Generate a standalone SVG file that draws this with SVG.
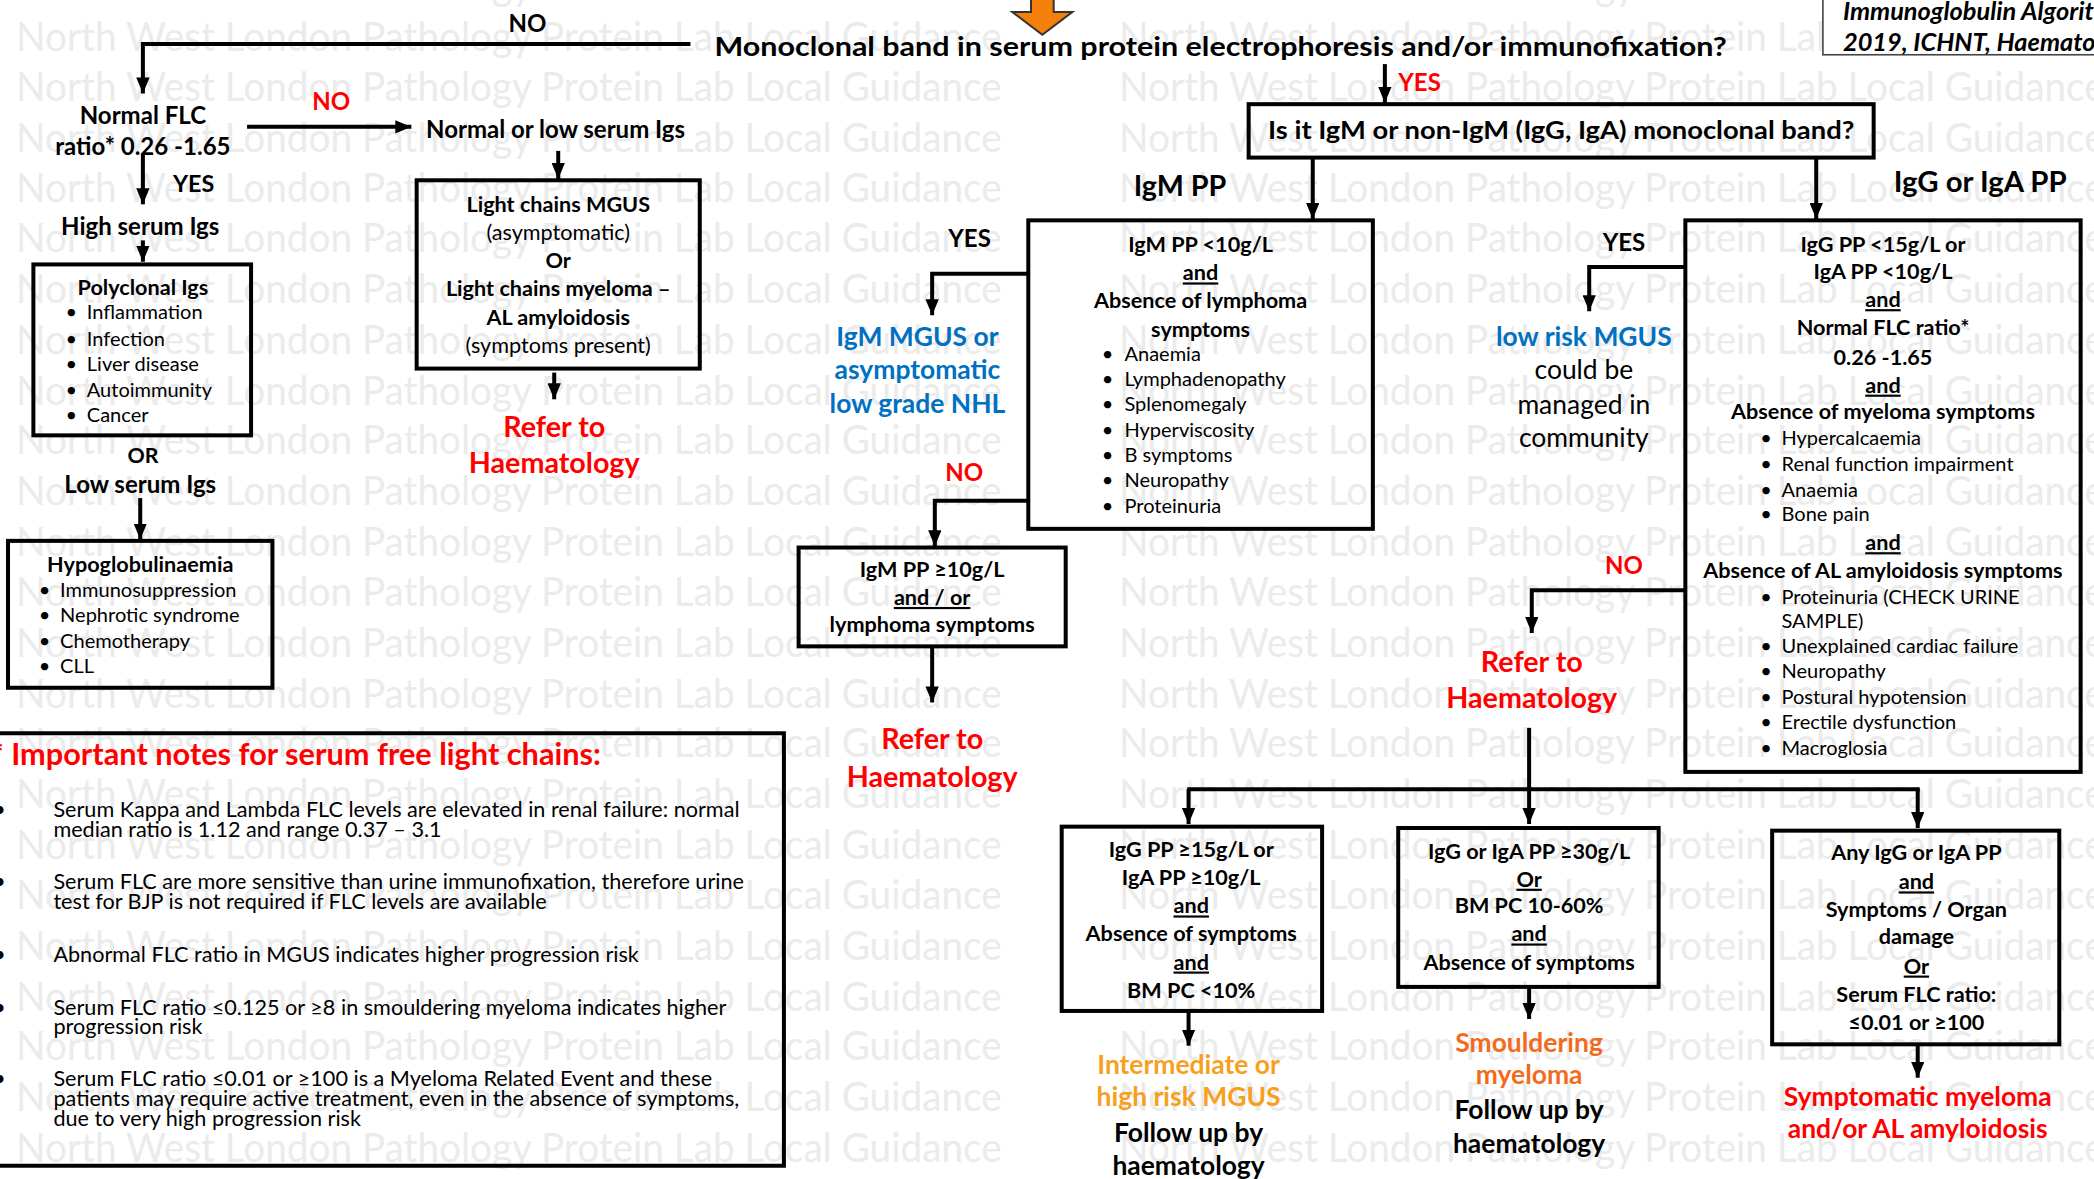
<svg xmlns="http://www.w3.org/2000/svg" width="2094" height="1179" viewBox="0 0 2094 1179">
<defs>
<style>
text{font-family:Lato,"Open Sans","Liberation Sans",sans-serif;}
.wm{font-size:30px;fill:#ebebeb;}
.b{font-weight:700;fill:#000;}
.r{font-weight:400;fill:#000;}
.c{text-anchor:middle;}
.red{fill:#ff0000;font-weight:700;}
.blue{fill:#0070c0;font-weight:700;}
.or1{fill:#f7a01e;font-weight:700;}
.or2{fill:#f26b1d;font-weight:700;}
.s20{font-size:21.5px;}
.s18{font-size:19.8px;}
.s16{font-size:18px;}
.s145{font-size:16.2px;}
.s135{font-size:15px;}
.nt{font-size:16.2px;font-weight:400;fill:#000;}
.u{text-decoration:underline;}
.box{fill:none;stroke:#000;stroke-width:3;}
.ln{fill:none;stroke:#000;stroke-width:3;}
.ar{fill:none;stroke:#000;stroke-width:3;marker-end:url(#ah);}
</style>
<marker id="ah" markerUnits="userSpaceOnUse" markerWidth="12" markerHeight="10" refX="12" refY="5" orient="auto"><path d="M0,0 L12,5 L0,10 z" fill="#000"/></marker>
</defs>
<rect width="2094" height="1179" fill="#fff"/>
<g transform="scale(1.33546)">
<g id="watermark">
<text class="wm" x="12" y="0" textLength="738" lengthAdjust="spacingAndGlyphs">North West London Pathology Protein Lab Local Guidance</text>
<text class="wm" x="838" y="0" textLength="738" lengthAdjust="spacingAndGlyphs">North West London Pathology Protein Lab Local Guidance</text>
<text class="wm" x="12" y="38" textLength="738" lengthAdjust="spacingAndGlyphs">North West London Pathology Protein Lab Local Guidance</text>
<text class="wm" x="838" y="38" textLength="738" lengthAdjust="spacingAndGlyphs">North West London Pathology Protein Lab Local Guidance</text>
<text class="wm" x="12" y="76" textLength="738" lengthAdjust="spacingAndGlyphs">North West London Pathology Protein Lab Local Guidance</text>
<text class="wm" x="838" y="76" textLength="738" lengthAdjust="spacingAndGlyphs">North West London Pathology Protein Lab Local Guidance</text>
<text class="wm" x="12" y="114" textLength="738" lengthAdjust="spacingAndGlyphs">North West London Pathology Protein Lab Local Guidance</text>
<text class="wm" x="838" y="114" textLength="738" lengthAdjust="spacingAndGlyphs">North West London Pathology Protein Lab Local Guidance</text>
<text class="wm" x="12" y="151" textLength="738" lengthAdjust="spacingAndGlyphs">North West London Pathology Protein Lab Local Guidance</text>
<text class="wm" x="838" y="151" textLength="738" lengthAdjust="spacingAndGlyphs">North West London Pathology Protein Lab Local Guidance</text>
<text class="wm" x="12" y="189" textLength="738" lengthAdjust="spacingAndGlyphs">North West London Pathology Protein Lab Local Guidance</text>
<text class="wm" x="838" y="189" textLength="738" lengthAdjust="spacingAndGlyphs">North West London Pathology Protein Lab Local Guidance</text>
<text class="wm" x="12" y="227" textLength="738" lengthAdjust="spacingAndGlyphs">North West London Pathology Protein Lab Local Guidance</text>
<text class="wm" x="838" y="227" textLength="738" lengthAdjust="spacingAndGlyphs">North West London Pathology Protein Lab Local Guidance</text>
<text class="wm" x="12" y="265" textLength="738" lengthAdjust="spacingAndGlyphs">North West London Pathology Protein Lab Local Guidance</text>
<text class="wm" x="838" y="265" textLength="738" lengthAdjust="spacingAndGlyphs">North West London Pathology Protein Lab Local Guidance</text>
<text class="wm" x="12" y="303" textLength="738" lengthAdjust="spacingAndGlyphs">North West London Pathology Protein Lab Local Guidance</text>
<text class="wm" x="838" y="303" textLength="738" lengthAdjust="spacingAndGlyphs">North West London Pathology Protein Lab Local Guidance</text>
<text class="wm" x="12" y="340" textLength="738" lengthAdjust="spacingAndGlyphs">North West London Pathology Protein Lab Local Guidance</text>
<text class="wm" x="838" y="340" textLength="738" lengthAdjust="spacingAndGlyphs">North West London Pathology Protein Lab Local Guidance</text>
<text class="wm" x="12" y="378" textLength="738" lengthAdjust="spacingAndGlyphs">North West London Pathology Protein Lab Local Guidance</text>
<text class="wm" x="838" y="378" textLength="738" lengthAdjust="spacingAndGlyphs">North West London Pathology Protein Lab Local Guidance</text>
<text class="wm" x="12" y="416" textLength="738" lengthAdjust="spacingAndGlyphs">North West London Pathology Protein Lab Local Guidance</text>
<text class="wm" x="838" y="416" textLength="738" lengthAdjust="spacingAndGlyphs">North West London Pathology Protein Lab Local Guidance</text>
<text class="wm" x="12" y="454" textLength="738" lengthAdjust="spacingAndGlyphs">North West London Pathology Protein Lab Local Guidance</text>
<text class="wm" x="838" y="454" textLength="738" lengthAdjust="spacingAndGlyphs">North West London Pathology Protein Lab Local Guidance</text>
<text class="wm" x="12" y="492" textLength="738" lengthAdjust="spacingAndGlyphs">North West London Pathology Protein Lab Local Guidance</text>
<text class="wm" x="838" y="492" textLength="738" lengthAdjust="spacingAndGlyphs">North West London Pathology Protein Lab Local Guidance</text>
<text class="wm" x="12" y="530" textLength="738" lengthAdjust="spacingAndGlyphs">North West London Pathology Protein Lab Local Guidance</text>
<text class="wm" x="838" y="530" textLength="738" lengthAdjust="spacingAndGlyphs">North West London Pathology Protein Lab Local Guidance</text>
<text class="wm" x="12" y="567" textLength="738" lengthAdjust="spacingAndGlyphs">North West London Pathology Protein Lab Local Guidance</text>
<text class="wm" x="838" y="567" textLength="738" lengthAdjust="spacingAndGlyphs">North West London Pathology Protein Lab Local Guidance</text>
<text class="wm" x="12" y="605" textLength="738" lengthAdjust="spacingAndGlyphs">North West London Pathology Protein Lab Local Guidance</text>
<text class="wm" x="838" y="605" textLength="738" lengthAdjust="spacingAndGlyphs">North West London Pathology Protein Lab Local Guidance</text>
<text class="wm" x="12" y="643" textLength="738" lengthAdjust="spacingAndGlyphs">North West London Pathology Protein Lab Local Guidance</text>
<text class="wm" x="838" y="643" textLength="738" lengthAdjust="spacingAndGlyphs">North West London Pathology Protein Lab Local Guidance</text>
<text class="wm" x="12" y="681" textLength="738" lengthAdjust="spacingAndGlyphs">North West London Pathology Protein Lab Local Guidance</text>
<text class="wm" x="838" y="681" textLength="738" lengthAdjust="spacingAndGlyphs">North West London Pathology Protein Lab Local Guidance</text>
<text class="wm" x="12" y="719" textLength="738" lengthAdjust="spacingAndGlyphs">North West London Pathology Protein Lab Local Guidance</text>
<text class="wm" x="838" y="719" textLength="738" lengthAdjust="spacingAndGlyphs">North West London Pathology Protein Lab Local Guidance</text>
<text class="wm" x="12" y="757" textLength="738" lengthAdjust="spacingAndGlyphs">North West London Pathology Protein Lab Local Guidance</text>
<text class="wm" x="838" y="757" textLength="738" lengthAdjust="spacingAndGlyphs">North West London Pathology Protein Lab Local Guidance</text>
<text class="wm" x="12" y="794" textLength="738" lengthAdjust="spacingAndGlyphs">North West London Pathology Protein Lab Local Guidance</text>
<text class="wm" x="838" y="794" textLength="738" lengthAdjust="spacingAndGlyphs">North West London Pathology Protein Lab Local Guidance</text>
<text class="wm" x="12" y="832" textLength="738" lengthAdjust="spacingAndGlyphs">North West London Pathology Protein Lab Local Guidance</text>
<text class="wm" x="838" y="832" textLength="738" lengthAdjust="spacingAndGlyphs">North West London Pathology Protein Lab Local Guidance</text>
<text class="wm" x="12" y="870" textLength="738" lengthAdjust="spacingAndGlyphs">North West London Pathology Protein Lab Local Guidance</text>
<text class="wm" x="838" y="870" textLength="738" lengthAdjust="spacingAndGlyphs">North West London Pathology Protein Lab Local Guidance</text>
</g>

<g id="ref-box">
<rect x="1365" y="-5" width="220" height="46" fill="#fff" stroke="#444" stroke-width="1.2"/>
<text class="b" x="1380" y="15" font-size="19" font-style="italic">Immunoglobulin Algorithm</text>
<text class="b" x="1380" y="38" font-size="19" font-style="italic">2019, ICHNT, Haematology</text>
</g>

<g id="start-arrow">
<path d="M772,-2 H789 V9 H803 L780.5,26 L758,9 H772 Z" fill="#f47f0a" stroke="#333" stroke-width="1.5"/>
</g>

<g id="connectors">
<polyline class="ar" points="517,33 107,33 107,70"/>
<line class="ar" x1="185" y1="95" x2="308" y2="95"/>
<line class="ar" x1="107" y1="115" x2="107" y2="153"/>
<line class="ar" x1="107" y1="180" x2="107" y2="196"/>
<line class="ar" x1="105" y1="373" x2="105" y2="404"/>
<line class="ar" x1="418" y1="113" x2="418" y2="134"/>
<line class="ar" x1="415" y1="279" x2="415" y2="299"/>
<line class="ar" x1="1037" y1="48" x2="1037" y2="77"/>
<line class="ar" x1="983" y1="118" x2="983" y2="164"/>
<line class="ar" x1="1360" y1="118" x2="1360" y2="164"/>
<polyline class="ar" points="770,205 698,205 698,236"/>
<polyline class="ar" points="770,375 700,375 700,409"/>
<line class="ar" x1="698" y1="485" x2="698" y2="526"/>
<polyline class="ar" points="1262,200 1190,200 1190,233"/>
<polyline class="ar" points="1262,442 1147,442 1147,474"/>
<line class="ar" x1="1145" y1="545" x2="1145" y2="617"/>
<line class="ln" x1="889" y1="591" x2="1437.5" y2="591"/>
<line class="ar" x1="890" y1="591" x2="890" y2="617"/>
<line class="ar" x1="1436" y1="591" x2="1436" y2="620"/>
<line class="ar" x1="890" y1="757" x2="890" y2="783"/>
<line class="ar" x1="1145" y1="739" x2="1145" y2="763"/>
<line class="ar" x1="1436" y1="782" x2="1436" y2="807"/>
</g>

<g id="labels">
<text class="b c" x="395" y="24" font-size="18">NO</text>
<text class="red c" x="248" y="82" font-size="18">NO</text>
<text class="b c" x="145" y="144" font-size="17.5">YES</text>
<text class="red c" x="1063" y="68" font-size="18">YES</text>
<text class="b c" x="726" y="185" font-size="18">YES</text>
<text class="red c" x="722" y="360" font-size="18">NO</text>
<text class="b c" x="1216" y="188" font-size="18">YES</text>
<text class="red c" x="1216" y="430" font-size="18">NO</text>
</g>

<g id="title">
<text class="b" x="535" y="42" font-size="20.5" textLength="758" lengthAdjust="spacingAndGlyphs">Monoclonal band in serum protein electrophoresis and/or immunofixation?</text>
</g>

<g id="normal-flc">
<text class="b c s16" x="107" y="93">Normal FLC</text>
<text class="b c s16" x="107" y="116">ratio* 0.26 -1.65</text>
</g>
<g id="normal-low">
<text class="b s16" x="319" y="103">Normal or low serum Igs</text>
</g>
<g id="high-serum">
<text class="b c s16" x="105" y="176">High serum Igs</text>
</g>
<g id="polyclonal">
<rect class="box" x="25" y="198" width="163" height="128"/>
<text class="b c s145" x="107" y="221">Polyclonal Igs</text>
<text class="r s135" x="49" y="239">•</text><text class="r s135" x="65" y="239">Inflammation</text>
<text class="r s135" x="49" y="259">•</text><text class="r s135" x="65" y="259">Infection</text>
<text class="r s135" x="49" y="278">•</text><text class="r s135" x="65" y="278">Liver disease</text>
<text class="r s135" x="49" y="297">•</text><text class="r s135" x="65" y="297">Autoimmunity</text>
<text class="r s135" x="49" y="316">•</text><text class="r s135" x="65" y="316">Cancer</text>
</g>
<g id="or-low">
<text class="b c" x="107" y="347" font-size="16">OR</text>
<text class="b c s16" x="105" y="369">Low serum Igs</text>
</g>
<g id="hypo">
<rect class="box" x="6" y="405" width="198" height="110"/>
<text class="b c s145" x="105" y="428">Hypoglobulinaemia</text>
<text class="r s135" x="29" y="447">•</text><text class="r s135" x="45" y="447">Immunosuppression</text>
<text class="r s135" x="29" y="466">•</text><text class="r s135" x="45" y="466">Nephrotic syndrome</text>
<text class="r s135" x="29" y="485">•</text><text class="r s135" x="45" y="485">Chemotherapy</text>
<text class="r s135" x="29" y="504">•</text><text class="r s135" x="45" y="504">CLL</text>
</g>
<g id="light-chains">
<rect class="box" x="312" y="135" width="212" height="141"/>
<text class="b c s145" x="418" y="159">Light chains MGUS</text>
<text class="r c s145" x="418" y="180">(asymptomatic)</text>
<text class="b c s145" x="418" y="201">Or</text>
<text class="b c s145" x="418" y="222">Light chains myeloma –</text>
<text class="b c s145" x="418" y="243">AL amyloidosis</text>
<text class="r c s145" x="418" y="264">(symptoms present)</text>
</g>
<g id="refer1">
<text class="red c s20" x="415" y="327">Refer to</text>
<text class="red c s20" x="415" y="354">Haematology</text>
</g>

<g id="question">
<rect class="box" x="935" y="78" width="468" height="40"/>
<text class="b c" x="1169" y="104" font-size="19" textLength="439" lengthAdjust="spacingAndGlyphs">Is it IgM or non-IgM (IgG, IgA) monoclonal band?</text>
</g>
<g id="igm-label"><text class="b s20" x="849" y="147">IgM PP</text></g>
<g id="igg-label"><text class="b" font-size="22" x="1418" y="144">IgG or IgA PP</text></g>

<g id="igm-box">
<rect class="box" x="770" y="165" width="258" height="231"/>
<text class="b c s145" x="899" y="189">IgM PP &lt;10g/L</text>
<text class="b c s145 u" x="899" y="210">and</text>
<text class="b c s145" x="899" y="231">Absence of lymphoma</text>
<text class="b c s145" x="899" y="252">symptoms</text>
<text class="r s135" x="825" y="270">•</text><text class="r s135" x="842" y="270">Anaemia</text>
<text class="r s135" x="825" y="289">•</text><text class="r s135" x="842" y="289">Lymphadenopathy</text>
<text class="r s135" x="825" y="308">•</text><text class="r s135" x="842" y="308">Splenomegaly</text>
<text class="r s135" x="825" y="327">•</text><text class="r s135" x="842" y="327">Hyperviscosity</text>
<text class="r s135" x="825" y="346">•</text><text class="r s135" x="842" y="346">B symptoms</text>
<text class="r s135" x="825" y="365">•</text><text class="r s135" x="842" y="365">Neuropathy</text>
<text class="r s135" x="825" y="384">•</text><text class="r s135" x="842" y="384">Proteinuria</text>
</g>
<g id="igm-mgus">
<text class="blue c s18" x="687" y="259">IgM MGUS or</text>
<text class="blue c s18" x="687" y="284">asymptomatic</text>
<text class="blue c s18" x="687" y="309">low grade NHL</text>
</g>
<g id="igm-high">
<rect class="box" x="598" y="410" width="200" height="74"/>
<text class="b c s145" x="698" y="432">IgM PP ≥10g/L</text>
<text class="b c s145 u" x="698" y="453">and / or</text>
<text class="b c s145" x="698" y="473">lymphoma symptoms</text>
</g>
<g id="refer2">
<text class="red c s20" x="698" y="561">Refer to</text>
<text class="red c s20" x="698" y="589">Haematology</text>
</g>

<g id="low-risk">
<text class="blue c s18" x="1186" y="259">low risk MGUS</text>
<text class="r c s18" x="1186" y="284">could be</text>
<text class="r c s18" x="1186" y="310">managed in</text>
<text class="r c s18" x="1186" y="335">community</text>
</g>
<g id="igg-box">
<rect class="box" x="1262" y="165" width="296" height="413"/>
<text class="b c s145" x="1410" y="189">IgG PP &lt;15g/L or</text>
<text class="b c s145" x="1410" y="209">IgA PP &lt;10g/L</text>
<text class="b c s145 u" x="1410" y="230">and</text>
<text class="b c s145" x="1410" y="251">Normal FLC ratio*</text>
<text class="b c s145" x="1410" y="273">0.26 -1.65</text>
<text class="b c s145 u" x="1410" y="294">and</text>
<text class="b c s145" x="1410" y="314">Absence of myeloma symptoms</text>
<text class="r s135" x="1318" y="333">•</text><text class="r s135" x="1334" y="333">Hypercalcaemia</text>
<text class="r s135" x="1318" y="353">•</text><text class="r s135" x="1334" y="353">Renal function impairment</text>
<text class="r s135" x="1318" y="372">•</text><text class="r s135" x="1334" y="372">Anaemia</text>
<text class="r s135" x="1318" y="390">•</text><text class="r s135" x="1334" y="390">Bone pain</text>
<text class="b c s145 u" x="1410" y="412">and</text>
<text class="b c s145" x="1410" y="433">Absence of AL amyloidosis symptoms</text>
<text class="r s135" x="1318" y="452">•</text><text class="r s135" x="1334" y="452">Proteinuria (CHECK URINE</text>
<text class="r s135" x="1334" y="470">SAMPLE)</text>
<text class="r s135" x="1318" y="489">•</text><text class="r s135" x="1334" y="489">Unexplained cardiac failure</text>
<text class="r s135" x="1318" y="508">•</text><text class="r s135" x="1334" y="508">Neuropathy</text>
<text class="r s135" x="1318" y="527">•</text><text class="r s135" x="1334" y="527">Postural hypotension</text>
<text class="r s135" x="1318" y="546">•</text><text class="r s135" x="1334" y="546">Erectile dysfunction</text>
<text class="r s135" x="1318" y="565">•</text><text class="r s135" x="1334" y="565">Macroglosia</text>
</g>
<g id="refer3">
<text class="red c s20" x="1147" y="503">Refer to</text>
<text class="red c s20" x="1147" y="530">Haematology</text>
</g>

<g id="box-a">
<rect class="box" x="795" y="619" width="195" height="138"/>
<text class="b c s145" x="892" y="642">IgG PP ≥15g/L or</text>
<text class="b c s145" x="892" y="663">IgA PP ≥10g/L</text>
<text class="b c s145 u" x="892" y="684">and</text>
<text class="b c s145" x="892" y="705">Absence of symptoms</text>
<text class="b c s145 u" x="892" y="726">and</text>
<text class="b c s145" x="892" y="747">BM PC &lt;10%</text>
</g>
<g id="outcome-a">
<text class="or1 c s18" x="890" y="804">Intermediate or</text>
<text class="or1 c s18" x="890" y="828">high risk MGUS</text>
<text class="b c s18" x="890" y="855">Follow up by</text>
<text class="b c s18" x="890" y="880">haematology</text>
</g>
<g id="box-b">
<rect class="box" x="1047" y="620" width="195" height="119"/>
<text class="b c s145" x="1145" y="643">IgG or IgA PP ≥30g/L</text>
<text class="b c s145 u" x="1145" y="664">Or</text>
<text class="b c s145" x="1145" y="684">BM PC 10-60%</text>
<text class="b c s145 u" x="1145" y="705">and</text>
<text class="b c s145" x="1145" y="726">Absence of symptoms</text>
</g>
<g id="outcome-b">
<text class="or2 c s18" x="1145" y="788">Smouldering</text>
<text class="or2 c s18" x="1145" y="812">myeloma</text>
<text class="b c s18" x="1145" y="838">Follow up by</text>
<text class="b c s18" x="1145" y="863">haematology</text>
</g>
<g id="box-c">
<rect class="box" x="1327" y="622" width="215" height="160"/>
<text class="b c s145" x="1435" y="644">Any IgG or IgA PP</text>
<text class="b c s145 u" x="1435" y="666">and</text>
<text class="b c s145" x="1435" y="687">Symptoms / Organ</text>
<text class="b c s145" x="1435" y="707">damage</text>
<text class="b c s145 u" x="1435" y="729">Or</text>
<text class="b c s145" x="1435" y="750">Serum FLC ratio:</text>
<text class="b c s145" x="1435" y="771">≤0.01 or ≥100</text>
</g>
<g id="outcome-c">
<text class="red c s18" x="1436" y="828">Symptomatic myeloma</text>
<text class="red c s18" x="1436" y="852">and/or AL amyloidosis</text>
</g>

<g id="notes">
<path class="ln" d="M-5,549 H587 V873 H-5"/>
<text class="red" font-size="23" x="-7" y="573">* Important notes for serum free light chains:</text>
<text class="nt" x="-5" y="612">•</text>
<text class="nt" x="40" y="612">Serum Kappa and Lambda FLC levels are elevated in renal failure: normal</text>
<text class="nt" x="40" y="627">median ratio is 1.12 and range 0.37 – 3.1</text>
<text class="nt" x="-5" y="666">•</text>
<text class="nt" x="40" y="666">Serum FLC are more sensitive than urine immunofixation, therefore urine</text>
<text class="nt" x="40" y="681">test for BJP is not required if FLC levels are available</text>
<text class="nt" x="-5" y="720">•</text>
<text class="nt" x="40" y="720">Abnormal FLC ratio in MGUS indicates higher progression risk</text>
<text class="nt" x="-5" y="760">•</text>
<text class="nt" x="40" y="760">Serum FLC ratio ≤0.125 or ≥8 in smouldering myeloma indicates higher</text>
<text class="nt" x="40" y="774">progression risk</text>
<text class="nt" x="-5" y="813">•</text>
<text class="nt" x="40" y="813">Serum FLC ratio ≤0.01 or ≥100 is a Myeloma Related Event and these</text>
<text class="nt" x="40" y="828">patients may require active treatment, even in the absence of symptoms,</text>
<text class="nt" x="40" y="843">due to very high progression risk</text>
</g>
</g>
</svg>
